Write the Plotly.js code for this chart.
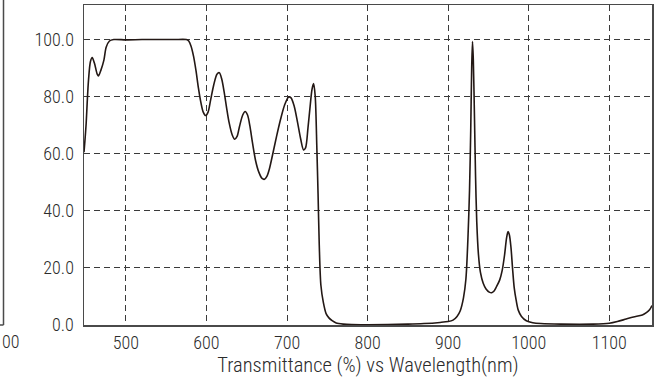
<!DOCTYPE html>
<html>
<head>
<meta charset="utf-8">
<script src="https://cdn.plot.ly/plotly-3.0.1.min.js"></script>
<style>
html,body{margin:0;padding:0;background:#fff;}
#chart{width:665px;height:383px;}
</style>
</head>
<body>
<div id="chart"></div>
<script>
// Wavelength (nm)
const wavelength = [
  448, 449, 450.7, 452, 453.6, 456, 458.2, 461, 464.4, 466, 469, 472.7, 475.5, 479.6, 485,
  500, 520, 540, 560, 575, 578, 581, 584, 587, 590, 593, 596, 599, 602, 605, 609, 613, 616,
  619, 622, 625, 628, 632, 635, 638, 641, 645, 648, 651, 654, 657, 661, 665, 669, 672, 675,
  678, 682, 687, 692, 697, 702, 705, 709, 713, 717, 720.5, 723, 726, 729, 731, 733, 735, 737,
  738.5, 740, 742, 745, 748.5, 752, 756, 761, 770, 780, 800, 850, 870, 890, 900, 906, 911,
  915, 919, 922, 924.5, 926.5, 928, 929.2, 930.2, 931.2, 932.7, 934, 935.5, 937.5, 940,
  943.5, 947, 951, 954, 957, 960, 964, 967, 970, 972.5, 974.3, 976, 978, 980, 982, 984.5,
  987, 991, 997, 1005, 1015, 1040, 1080, 1100, 1110, 1121, 1130, 1141, 1146, 1150, 1153
];
// Transmittance (%)
const transmittance = [
  60.5, 64, 70.6, 78, 85.7, 92.2, 93.6, 91.6, 87.8, 87.2, 89.2, 92.7, 97.2, 99.4, 99.9,
  99.8, 99.9, 99.9, 99.9, 99.9, 99.4, 97.5, 94, 89, 83, 78, 74.5, 73.3, 74.5, 78.5, 84, 87.8, 88.3,
  86, 81.5, 76, 71, 66.5, 65, 66, 69.5, 73.5, 74.7, 73.5, 69.5, 64, 57.5, 53.5, 51.3, 51, 52,
  54.5, 59.5, 66, 72, 77, 79.8, 79.5, 76.5, 71, 65, 61.3, 62, 69, 77.5, 82.5, 84.5, 80, 62,
  46, 28, 14, 8, 4, 2.5, 1.5, 0.7, 0.3, 0.15, 0.1, 0.3, 0.5, 0.9, 1.2, 1.7, 3,
  5, 9.5, 16, 30, 47, 68, 90, 99.2, 93, 72, 52, 36, 25, 18.5,
  14.6, 12.6, 11.5, 11.3, 11.9, 13.4, 15.8, 19, 24.5, 30.5, 32.7, 31.5, 27, 19.5, 13, 8.5,
  5.2, 3, 1.5, 0.8, 0.5, 0.3, 0.3, 0.6, 1.2, 2.1, 2.8, 3.5, 4.3, 5.3, 6.8
];
const xTicks = [500, 600, 700, 800, 900, 1000, 1100];
const yTicks = [0, 20, 40, 60, 80, 100];
const yTickText = ["0.0", "20.0", "40.0", "60.0", "80.0", "100.0"];
const xTitle = "Transmittance (%) vs Wavelength(nm)";

const FONT = "Roboto Condensed, DejaVu Sans Condensed, sans-serif";
const AXC = "#4a4a4a";
const GRC = "#3a3a3a";
const TXC = "#2b2b2b";

// pixel -> paper helpers (for the fragment of the neighbouring chart at far left)
const L = 84, W = 568, T = 5, H = 320;
const px = x => (x - L) / W;
const py = y => (T + H - y) / H;

const shapes = [
  {type: "line", xref: "paper", yref: "paper", x0: px(3.5), x1: px(3.5), y0: py(325), y1: py(0),
   line: {color: AXC, width: 1.5}},
  {type: "line", xref: "paper", yref: "paper", x0: px(0), x1: px(3.5), y0: py(325), y1: py(325),
   line: {color: AXC, width: 1.5}}
];

const data = [{
  x: wavelength,
  y: transmittance,
  type: "scatter",
  mode: "lines",
  line: {color: "#231815", width: 1.6, shape: "spline", smoothing: 0.8},
  hoverinfo: "skip"
}];

const layout = {
  width: 665, height: 383,
  margin: {l: L, r: 665 - L - W, t: T, b: 383 - T - H},
  paper_bgcolor: "#fff", plot_bgcolor: "#fff",
  showlegend: false,
  font: {family: FONT, size: 18, color: TXC, weight: 300},
  xaxis: {
    range: [448, 1153],
    tickvals: xTicks,
    ticktext: xTicks.map(String),
    showgrid: true, gridcolor: GRC, gridwidth: 1, griddash: "6px,4px",
    zeroline: false,
    showline: true, linecolor: AXC, linewidth: 1.5, mirror: true,
    ticks: "", ticklabelstandoff: 1,
    tickfont: {family: FONT, size: 18, color: TXC, weight: 300},
    title: {text: xTitle, font: {family: FONT, size: 20.5, color: TXC, weight: 300}, standoff: 5}
  },
  yaxis: {
    range: [0, 112],
    tickvals: yTicks,
    ticktext: yTickText,
    showgrid: true, gridcolor: GRC, gridwidth: 1, griddash: "6px,4px",
    zeroline: false,
    showline: true, linecolor: AXC, linewidth: 1.5, mirror: true,
    ticks: "", ticklabelstandoff: 5,
    tickfont: {family: FONT, size: 18, color: TXC, weight: 300}
  },
  shapes: shapes,
  annotations: [{
    xref: "paper", yref: "paper", x: px(0), y: py(341), xanchor: "left", yanchor: "middle",
    text: "00", showarrow: false, font: {family: FONT, size: 18, color: TXC, weight: 300}
  }]
};

Plotly.newPlot("chart", data, layout, {staticPlot: true, displayModeBar: false});
</script>
</body>
</html>
